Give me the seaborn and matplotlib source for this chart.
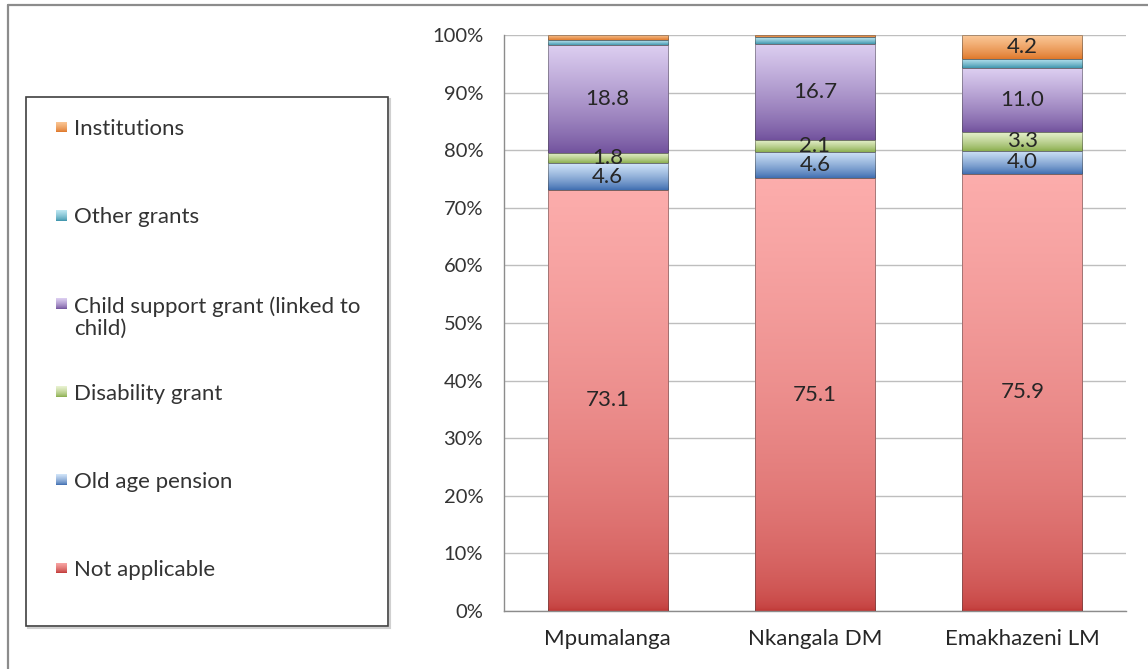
import numpy as np
import pandas as pd
import matplotlib
matplotlib.use("Agg")
import matplotlib.pyplot as plt
import seaborn as sns
from matplotlib.colors import LinearSegmentedColormap, to_rgb
from matplotlib.patches import Rectangle
from matplotlib.lines import Line2D
from matplotlib.ticker import FuncFormatter, MultipleLocator

# ---- data (percent of population by grant type) ----
regions = ["Mpumalanga", "Nkangala DM", "Emakhazeni LM"]
series = ["Institutions", "Other grants", "Child support grant (linked to child)",
          "Disability grant", "Old age pension", "Not applicable"]
legend_labels = ["Institutions", "Other grants", "Child support grant (linked to\nchild)",
                 "Disability grant", "Old age pension", "Not applicable"]
institutions = [0.9, 0.4, 4.2]
other_grants = [0.8, 1.1, 1.6]
child_support = [18.8, 16.7, 11.0]
disability = [1.8, 2.1, 3.3]
old_age = [4.6, 4.6, 4.0]
not_applicable = [73.1, 75.1, 75.9]
values = [institutions, other_grants, child_support, disability, old_age, not_applicable]

# series that carry value labels inside the bars
labelled = {"Institutions", "Child support grant (linked to child)",
            "Disability grant", "Old age pension", "Not applicable"}

# gradient colours per series: (dark bottom, light top)
shades = {
    "Institutions": ("#DE7628", "#FCCB9C"),
    "Other grants": ("#3A92AA", "#BDE7F2"),
    "Child support grant (linked to child)": ("#70509C", "#DDCFF1"),
    "Disability grant": ("#88AC4A", "#EAF3D2"),
    "Old age pension": ("#3C6BAF", "#D2E5F9"),
    "Not applicable": ("#C03836", "#FCADAC"),
}
gamma = {"Not applicable": 0.45}

df = pd.DataFrame({
    "region": [r for s in series for r in regions],
    "series": [s for s in series for _ in regions],
    "value": [v for vals in values for v in vals],
})
df["region"] = pd.Categorical(df["region"], categories=regions, ordered=True)

W, H = 1148, 669
sns.set_style("white")
plt.rcParams["font.family"] = ["Lato", "DejaVu Sans"]

fig = plt.figure(figsize=(W / 100, H / 100), dpi=100)
ax = fig.add_axes([504 / W, 1 - 611 / H, (1126 - 504) / W, (611 - 35) / H])

palette = {s: shades[s][0] for s in series}
sns.histplot(data=df, x="region", hue="series", weights="value", hue_order=series,
             multiple="stack", discrete=True, shrink=0.58, palette=palette,
             alpha=1, linewidth=0, legend=False, ax=ax)

# identify each bar container by its colour, then paint gradients + labels
def series_of(patch):
    rgb = np.array(patch.get_facecolor()[:3])
    for s in series:
        if np.allclose(rgb, to_rgb(shades[s][0]), atol=0.02):
            return s
    return None

for cont in ax.containers:
    if len(cont.patches) == 0:
        continue
    s = series_of(cont.patches[0])
    if s is None:
        continue
    dark, light = shades[s]
    cmap = LinearSegmentedColormap.from_list(s, [dark, light])
    ramp = np.linspace(0, 1, 256) ** gamma.get(s, 0.8)
    for p in cont.patches:
        h = p.get_height()
        if h <= 0:
            continue
        x0, y0, w = p.get_x(), p.get_y(), p.get_width()
        im = ax.imshow(ramp.reshape(-1, 1), cmap=cmap, vmin=0, vmax=1,
                       extent=(x0, x0 + w, y0, y0 + h), origin="lower",
                       aspect="auto", interpolation="bicubic", zorder=2)
        im.set_clip_path(p)
        p.set_facecolor("none")
        p.set_edgecolor((0.25, 0.25, 0.25, 0.45))
        p.set_linewidth(0.7)
        p.set_zorder(3)
    if s in labelled:
        labels = [f"{p.get_height():.1f}" if p.get_height() >= 1.5 else "" for p in cont.patches]
        ax.bar_label(cont, labels=labels, label_type="center", fontsize=16,
                     color="#262626", zorder=4)

ax.set_xlim(-0.5, 2.5)
ax.set_ylim(0, 100)
ax.yaxis.set_major_locator(MultipleLocator(10))
ax.yaxis.set_major_formatter(FuncFormatter(lambda v, _: f"{v:.0f}%"))
ax.set_xticks(range(len(regions)))
ax.set_xticklabels(regions)
ax.set_xlabel("")
ax.set_ylabel("")
ax.grid(axis="y", color="#BEBEBE", linewidth=1.0)
ax.grid(axis="x", visible=False)
ax.set_axisbelow(True)
for side in ("top", "right"):
    ax.spines[side].set_visible(False)
for side in ("left", "bottom"):
    ax.spines[side].set_color("#8C8C8C")
    ax.spines[side].set_linewidth(1.0)
ax.tick_params(axis="y", length=0, pad=15, labelsize=14.5, labelcolor="#333333")
ax.tick_params(axis="x", length=0, pad=13, labelsize=16, labelcolor="#262626")

# legend panel on the left
def fx(px):
    return px / W

def fy(py):
    return 1 - py / H

fig.add_artist(Rectangle((fx(28), fy(628)), fx(388 - 26), (626 - 97) / H,
                         transform=fig.transFigure, fill=False,
                         edgecolor="#D0D0D0", linewidth=1.5, zorder=1))
fig.add_artist(Rectangle((fx(26), fy(626)), fx(388 - 26), (626 - 97) / H,
                         transform=fig.transFigure, facecolor="white",
                         edgecolor="#404040", linewidth=1.2, zorder=2))

top_y, step, line_h = 127, (568 - 127) / 5, 23
for i, (s, lab) in enumerate(zip(series, legend_labels)):
    yc = top_y + i * step
    dark, light = shades[s]
    cmap = LinearSegmentedColormap.from_list(s + "_key", [dark, light])
    kax = fig.add_axes([fx(56), fy(yc + 5.5), fx(11), 11 / H])
    kax.imshow(np.linspace(0, 1, 32).reshape(-1, 1) ** 0.7, cmap=cmap,
               origin="lower", aspect="auto", extent=(0, 1, 0, 1))
    kax.set_axis_off()
    kax.set_zorder(5)
    extra = (lab.count("\n")) * line_h
    fig.text(fx(74), fy(yc + 8 + extra), lab, ha="left", va="baseline", fontsize=16,
             color="#333333", linespacing=1.1, zorder=3)

# outer frame of the chart area
fig.add_artist(Line2D([fx(8), fx(8)], [0, fy(5)], color="#8C8C8C", linewidth=1.6))
fig.add_artist(Line2D([fx(8), 1], [fy(5), fy(5)], color="#8C8C8C", linewidth=1.6))

fig.savefig("out.png", dpi=100)
